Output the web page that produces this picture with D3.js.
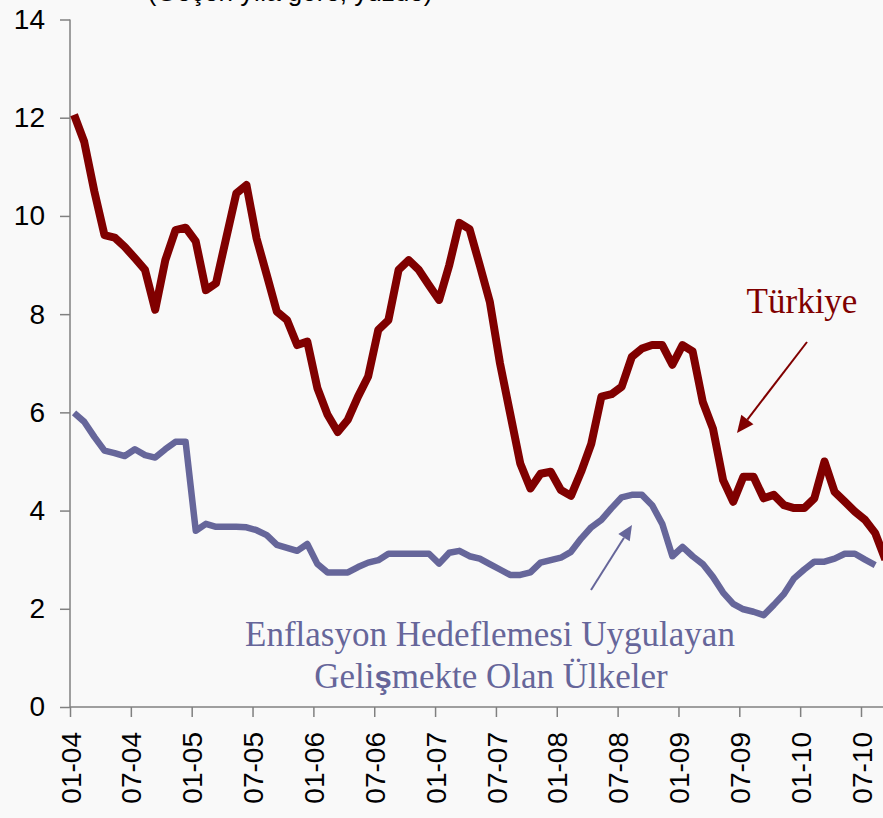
<!DOCTYPE html>
<meta charset="utf-8">
<style>
body { margin: 0; background: #f9f9f9; }
svg { display: block; background: #f9f9f9; }
.axis text { font-family: Arial, "Liberation Sans", sans-serif; font-size: 28px; fill: #000; }
.axis path, .axis line { stroke: #808080; stroke-width: 1.5px; }
</style>
<body>
<svg width="883" height="818"></svg>
<script src="https://d3js.org/d3.v7.min.js"></script>
<script>

// monthly, 01-2004 onwards (annual %)
var turkiye = [12.06, 11.51, 10.5, 9.61, 9.56, 9.37, 9.14, 8.9, 8.09, 9.1, 9.71, 9.76,
  9.48, 8.49, 8.63, 9.55, 10.46, 10.63, 9.54, 8.8, 8.05, 7.88, 7.37, 7.44,
  6.49, 5.95, 5.6, 5.85, 6.32, 6.73, 7.68, 7.88, 8.9, 9.1, 8.9, 8.59,
  8.29, 9.0, 9.86, 9.73, 9.0, 8.25, 7.0, 5.98, 4.96, 4.45, 4.75, 4.79,
  4.42, 4.3, 4.79, 5.36, 6.32, 6.37, 6.52, 7.13, 7.3, 7.37, 7.37, 6.97,
  7.37, 7.24, 6.21, 5.67, 4.62, 4.18, 4.69, 4.69, 4.25, 4.32, 4.11, 4.05,
  4.05, 4.25, 5.0, 4.38, 4.18, 3.98, 3.81, 3.54, 3.0];

var gelismekte = [5.99, 5.81, 5.5, 5.22, 5.17, 5.11, 5.25, 5.13, 5.08, 5.25, 5.4, 5.4,
  3.59, 3.73, 3.67, 3.67, 3.67, 3.66, 3.6, 3.5, 3.3, 3.24, 3.18, 3.32,
  2.91, 2.74, 2.74, 2.74, 2.85, 2.94, 2.99, 3.12, 3.12, 3.12, 3.12, 3.12,
  2.92, 3.14, 3.18, 3.07, 3.02, 2.91, 2.8, 2.69, 2.69, 2.74, 2.94, 2.99,
  3.04, 3.16, 3.43, 3.66, 3.81, 4.05, 4.27, 4.32, 4.32, 4.11, 3.73, 3.07,
  3.26, 3.07, 2.91, 2.65, 2.33, 2.1, 1.99, 1.94, 1.87, 2.08, 2.3, 2.62,
  2.8, 2.96, 2.96, 3.02, 3.12, 3.12, 3.0, 2.89];

var tickLabels = ["01-04", "07-04", "01-05", "07-05", "01-06", "07-06", "01-07",
  "07-07", "01-08", "07-08", "01-09", "07-09", "01-10", "07-10"];
var yTicks = [0, 2, 4, 6, 8, 10, 12, 14];

var svg = d3.select("svg");

var x = d3.scaleLinear().domain([0, 78]).range([70, 861]);
var y = d3.scaleLinear().domain([0, 14]).range([707, 19.5]);

// title, mostly cut off at the top edge
svg.append("text")
    .attr("x", 290)
    .attr("y", 1)
    .attr("text-anchor", "middle")
    .style("font-family", "Arial, 'Liberation Sans', sans-serif")
    .style("font-size", "26px")
    .text("(Geçen yıla göre, yüzde)");

// y axis
var yAxis = svg.append("g")
    .attr("class", "axis")
    .attr("transform", "translate(70,0)")
    .call(d3.axisLeft(y).tickValues(yTicks).tickSize(10).tickPadding(15).tickSizeOuter(0));
yAxis.select(".domain").attr("d", "M0," + y(14) + "V" + y(0));

// x axis
var xAxis = svg.append("g")
    .attr("class", "axis")
    .attr("transform", "translate(0," + y(0) + ")")
    .call(d3.axisBottom(x).tickValues(d3.range(0, 79, 6))
        .tickFormat(function(d, i) { return tickLabels[i]; })
        .tickSize(10).tickSizeOuter(0));
xAxis.select(".domain").attr("d", "M70,0H883");
xAxis.selectAll("text")
    .attr("transform", "rotate(-90)")
    .attr("text-anchor", "end")
    .attr("x", -25)
    .attr("y", 0)
    .attr("dy", "0.36em");

var line = d3.line()
    .x(function(d, i) { return x(i + 0.4); })
    .y(function(d) { return y(d); });

svg.append("path")
    .datum(gelismekte)
    .attr("fill", "none")
    .attr("stroke", "#66669a")
    .attr("stroke-width", 6.5)
    .attr("stroke-linejoin", "round")
    .attr("d", line);

svg.append("path")
    .datum(turkiye)
    .attr("fill", "none")
    .attr("stroke", "#800000")
    .attr("stroke-width", 8)
    .attr("stroke-linejoin", "round")
    .attr("d", line);

// arrows
function arrow(x1, y1, x2, y2, color, w, head) {
  var a = Math.atan2(y2 - y1, x2 - x1);
  var bx = x2 - head * Math.cos(a), by = y2 - head * Math.sin(a);
  svg.append("line")
      .attr("x1", x1).attr("y1", y1).attr("x2", bx).attr("y2", by)
      .attr("stroke", color).attr("stroke-width", w);
  var hw = head * 0.45;
  svg.append("path")
      .attr("fill", color)
      .attr("d", "M" + x2 + "," + y2 +
        "L" + (bx + hw * Math.sin(a)) + "," + (by - hw * Math.cos(a)) +
        "L" + (bx - hw * Math.sin(a)) + "," + (by + hw * Math.cos(a)) + "Z");
}
arrow(807, 342, 737, 433, "#800000", 2, 17);
arrow(591, 590, 632, 525, "#66669a", 2, 15);

// labels
var serif = "'Liberation Serif', 'Times New Roman', serif";
svg.append("text")
    .attr("x", 802).attr("y", 313)
    .attr("text-anchor", "middle")
    .style("font-family", serif).style("font-size", "35px")
    .attr("fill", "#800000")
    .text("Türkiye");

svg.append("text")
    .attr("x", 490).attr("y", 646)
    .attr("text-anchor", "middle")
    .style("font-family", serif).style("font-size", "35px")
    .attr("fill", "#66669a")
    .text("Enflasyon Hedeflemesi Uygulayan");

var t2 = svg.append("text")
    .attr("x", 491).attr("y", 688)
    .attr("text-anchor", "middle")
    .style("font-family", serif).style("font-size", "35px")
    .attr("fill", "#66669a");
t2.append("tspan").text("Geli");
t2.append("tspan").style("font-family", "Arial, 'Liberation Sans', sans-serif")
    .style("font-weight", "bold").style("font-size", "31px").text("ş");
t2.append("tspan").text("mekte Olan Ülkeler");

</script>
</body>
